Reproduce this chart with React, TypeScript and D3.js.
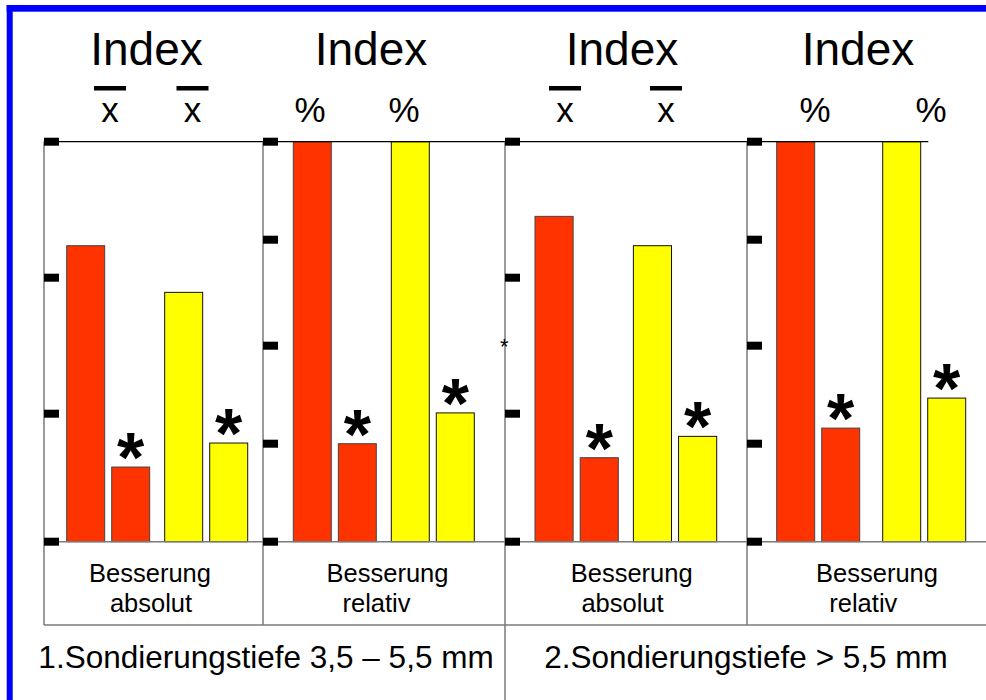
import React from "react";
import * as d3 from "d3";

// ---------- data ----------
const panelKeys = ["abs1", "rel1", "abs2", "rel2"];
const panelKinds = ["abs", "rel", "abs", "rel"];
const groupKeys = ["rot", "gelb"];
const barKeys = ["a", "b"];
const redTall = [2.22, 100, 2.44, 100];
const redShort = [0.56, 24.5, 0.63, 28.4];
const yellowTall = [1.87, 100, 2.22, 100];
const yellowShort = [0.74, 32.2, 0.79, 35.9];
const absTicks = [0, 0.96, 1.98, 3];
const relTicks = [0, 24.5, 49, 75.5, 100];
const absDomain = [0, 3];
const relDomain = [0, 100];
const headerText = "Index";
const unitLabels = ["x", "%", "x", "%"];
const unitOverbar = [true, false, true, false];
const catLine1 = ["Besserung", "Besserung", "Besserung", "Besserung"];
const catLine2 = ["absolut", "relativ", "absolut", "relativ"];
const sectionTitles = ["1.Sondierungstiefe 3,5 – 5,5 mm", "2.Sondierungstiefe > 5,5 mm"];

// ---------- layout ----------
const W = 986;
const H = 700;
const Y_TOP = 141.7;
const Y_BASE = 541.7;
const Y_BOX = 625;
const panelLeft = [44, 263, 505, 747];
const barsSpan = [
  [22.7, 203.7],
  [30.3, 211.3],
  [30, 211.7],
  [29.7, 218.7],
];
const groupPad = [0.153, 0.153, 0.153, 0.217];
const headerX = [146.5, 371, 622, 858];
const unitX = [
  [110, 192.5],
  [310, 404],
  [565, 666],
  [815, 931],
];
const catX = [
  [150, 151],
  [387.5, 376.5],
  [631.7, 622.5],
  [877, 863.3],
];
const titleX = [266, 746];
const FONT = "'Liberation Sans', Arial, sans-serif";
const RED = "#FF3300";
const YELLOW = "#FFFF00";
const GRAY = "#7a7a7a";

export default function App() {
  const panels = panelKeys.map((key, i) => {
    const kind = panelKinds[i];
    const y = d3
      .scaleLinear()
      .domain(kind === "abs" ? absDomain : relDomain)
      .range([Y_BASE, Y_TOP]);
    const outer = d3
      .scaleBand<string>()
      .domain(groupKeys)
      .range([panelLeft[i] + barsSpan[i][0], panelLeft[i] + barsSpan[i][1]])
      .paddingInner(groupPad[i])
      .paddingOuter(0);
    const inner = d3
      .scaleBand<string>()
      .domain(barKeys)
      .range([0, outer.bandwidth()])
      .paddingInner(0.156);
    const values: Record<string, number[]> = {
      rot: [redTall[i], redShort[i]],
      gelb: [yellowTall[i], yellowShort[i]],
    };
    const bars = groupKeys.flatMap((g) =>
      barKeys.map((b, j) => ({
        g,
        b,
        v: values[g][j],
        x: (outer(g) as number) + (inner(b) as number),
        w: inner.bandwidth(),
        star: j === 1,
      }))
    );
    const ticks = kind === "abs" ? absTicks : relTicks;
    return { key, kind, y, bars, ticks, i };
  });

  return (
    <svg
      width={W}
      height={H}
      style={{ position: "absolute", left: 0, top: 0, background: "#fff" }}
      fontFamily={FONT}
    >
      <rect x={0} y={0} width={W} height={H} fill="#fff" />
      {/* blue frame */}
      <rect x={6.7} y={5} width={W - 6.7} height={6.7} fill="#0000FF" />
      <rect x={6.7} y={5} width={6} height={H - 5} fill="#0000FF" />

      {/* headers */}
      {panels.map((p) => (
        <g key={"h" + p.key}>
          <text x={headerX[p.i]} y={65} fontSize={46} textAnchor="middle" fill="#000">
            {headerText}
          </text>
          {unitX[p.i].map((ux, k) => (
            <g key={k}>
              <text x={ux} y={121.7} fontSize={35} textAnchor="middle" fill="#000">
                {unitLabels[p.i]}
              </text>
              {unitOverbar[p.i] && (
                <rect x={ux - 16} y={86} width={32} height={4.5} fill="#000" />
              )}
            </g>
          ))}
        </g>
      ))}

      {/* bars */}
      {panels.map((p) => (
        <g key={"b" + p.key}>
          {p.bars.map((b) => (
            <rect
              key={b.g + b.b}
              x={b.x}
              y={p.y(b.v)}
              width={b.w}
              height={Y_BASE - p.y(b.v)}
              fill={b.g === "rot" ? RED : YELLOW}
              stroke={b.g === "rot" ? "#444" : "#111"}
              strokeWidth={1}
            />
          ))}
          {p.bars
            .filter((b) => b.star)
            .map((b) => (
              <text
                key={"s" + b.g}
                x={b.x + b.w / 2}
                y={p.y(b.v) + 15}
                fontSize={70}
                fontWeight="bold"
                textAnchor="middle"
                fill="#000"
              >
                *
              </text>
            ))}
        </g>
      ))}

      {/* frame lines */}
      <line x1={panelLeft[0]} x2={928.3} y1={Y_TOP} y2={Y_TOP} stroke="#000" strokeWidth={1.2} />
      <line x1={panelLeft[0]} x2={W} y1={Y_BASE} y2={Y_BASE} stroke={GRAY} strokeWidth={1.5} />
      <line x1={panelLeft[0]} x2={W} y1={Y_BOX} y2={Y_BOX} stroke={GRAY} strokeWidth={1.5} />
      {panels.map((p) => (
        <line
          key={"v" + p.key}
          x1={panelLeft[p.i]}
          x2={panelLeft[p.i]}
          y1={Y_TOP}
          y2={p.i === 2 ? H : Y_BOX}
          stroke={GRAY}
          strokeWidth={1.5}
        />
      ))}

      {/* ticks */}
      {panels.map((p) => (
        <g key={"t" + p.key}>
          {p.ticks.map((t) => (
            <rect key={t} x={panelLeft[p.i]} y={p.y(t) - 4} width={15} height={8} fill="#000" />
          ))}
        </g>
      ))}

      {/* small stray asterisk */}
      <text x={504.3} y={354.3} fontSize={22} textAnchor="middle" fill="#000">
        *
      </text>

      {/* category labels */}
      {panels.map((p) => (
        <g key={"c" + p.key}>
          <text x={catX[p.i][0]} y={581.7} fontSize={25.5} textAnchor="middle" fill="#000">
            {catLine1[p.i]}
          </text>
          <text x={catX[p.i][1]} y={612.3} fontSize={25.5} textAnchor="middle" fill="#000">
            {catLine2[p.i]}
          </text>
        </g>
      ))}

      {/* section titles */}
      {sectionTitles.map((t, k) => (
        <text key={t} x={titleX[k]} y={668.3} fontSize={31.5} textAnchor="middle" fill="#000">
          {t}
        </text>
      ))}
    </svg>
  );
}
